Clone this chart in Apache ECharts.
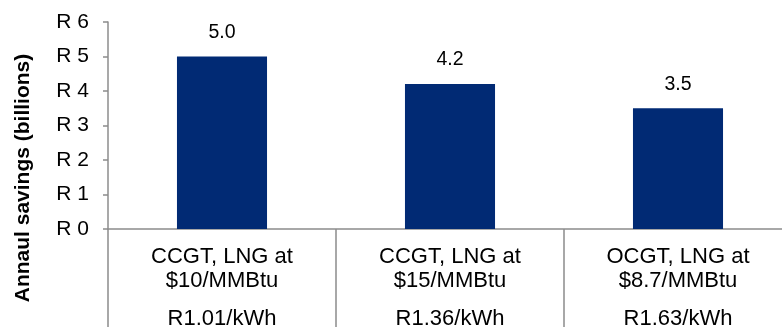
<!DOCTYPE html>
<html>
<head>
<meta charset="utf-8">
<script src="https://cdn.jsdelivr.net/npm/echarts@6/dist/echarts.min.js"></script>
<style>
  html, body { margin: 0; padding: 0; background: #fff; }
  #chart { width: 782px; height: 327px; }
</style>
</head>
<body>
<div id="chart"></div>
<script>
// Generation options, LNG price and resulting tariff per option
const technologies = ['CCGT, LNG at', 'CCGT, LNG at', 'OCGT, LNG at'];
const gasPrices = ['$10/MMBtu', '$15/MMBtu', '$8.7/MMBtu'];
const tariffs = ['R1.01/kWh', 'R1.36/kWh', 'R1.63/kWh'];
// Annual savings in billions of rand
const savings = [5.0, 4.2, 3.5];
// Y-axis ticks
const yTicks = [0, 1, 2, 3, 4, 5, 6];

const categories = technologies.map((t, i) => t + '\n' + gasPrices[i] + '\n\n' + tariffs[i]);

const FONT = "'Liberation Sans', Arial, sans-serif";
const AXIS_GREY = '#8c8c8c';

const chart = echarts.init(document.getElementById('chart'), null, { renderer: 'canvas' });

chart.setOption({
  animation: false,
  backgroundColor: '#ffffff',
  textStyle: { fontFamily: FONT },
  grid: {
    left: 108, right: -10, top: 22, bottom: 98,
    containLabel: false,
    outerBoundsMode: 'none'
  },
  xAxis: {
    type: 'category',
    data: categories,
    boundaryGap: true,
    axisLine: { show: true, lineStyle: { color: AXIS_GREY, width: 1.5 } },
    axisTick: { show: true, alignWithLabel: false, interval: 0, length: 100, lineStyle: { color: AXIS_GREY, width: 1.5 } },
    axisLabel: {
      interval: 0,
      margin: 16,
      color: '#000',
      fontFamily: FONT,
      formatter: function (value) {
        const parts = value.split('\n');
        return '{a|' + parts[0] + '}\n{a|' + parts[1] + '}\n{gap| }\n{a|' + parts[3] + '}';
      },
      rich: {
        a: { fontSize: 22, lineHeight: 24, color: '#000', fontFamily: FONT },
        gap: { fontSize: 2, lineHeight: 14 }
      }
    },
    splitLine: { show: false }
  },
  yAxis: {
    type: 'value',
    min: yTicks[0],
    max: yTicks[yTicks.length - 1],
    interval: 1,
    axisLine: { show: true, lineStyle: { color: AXIS_GREY, width: 1.5 } },
    axisTick: { show: true, length: 5, lineStyle: { color: AXIS_GREY, width: 1.5 } },
    axisLabel: {
      margin: 19,
      fontSize: 21,
      color: '#000',
      fontFamily: FONT,
      formatter: v => 'R ' + v
    },
    splitLine: { show: false }
  },
  graphic: [{
    type: 'text',
    x: 23,
    y: 178,
    rotation: Math.PI / 2,
    style: {
      text: 'Annaul savings (billions)',
      font: 'bold 21px ' + FONT,
      fill: '#000',
      align: 'center',
      verticalAlign: 'middle'
    }
  }],
  series: [{
    type: 'bar',
    data: savings,
    barWidth: '39.5%',
    itemStyle: { color: '#012A74' },
    label: {
      show: true,
      position: 'top',
      distance: 14,
      fontSize: 19.5,
      color: '#000',
      fontFamily: FONT,
      formatter: p => p.value.toFixed(1)
    }
  }]
});
</script>
</body>
</html>
